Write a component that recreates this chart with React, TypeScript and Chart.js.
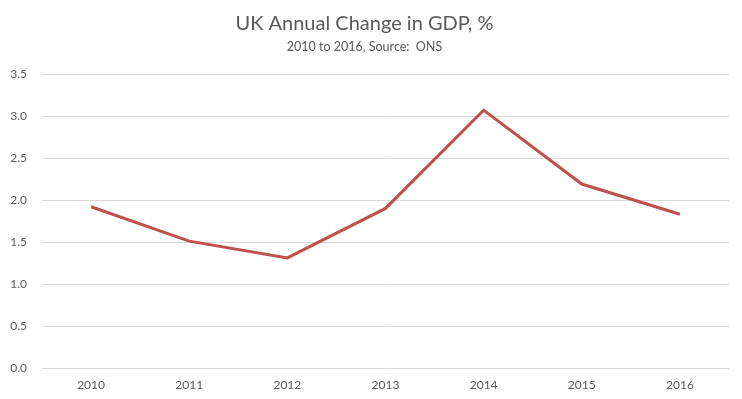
import React, { useEffect, useRef } from "react";
import { Chart, registerables } from "chart.js";

Chart.register(...registerables);

const years = ["2010", "2011", "2012", "2013", "2014", "2015", "2016"];
const gdpChange = [1.92, 1.51, 1.31, 1.9, 3.07, 2.19, 1.83];
const titleText = "UK Annual Change in GDP, %";
const subtitleText = "2010 to 2016, Source:  ONS";

export default function App() {
  const ref = useRef<HTMLCanvasElement | null>(null);

  useEffect(() => {
    document.body.style.margin = "0";
    if (!ref.current) return;
    const chart = new Chart(ref.current, {
      type: "line",
      data: {
        labels: years,
        datasets: [
          {
            data: gdpChange,
            borderColor: "#C0504D",
            borderWidth: 3,
            pointRadius: 0,
            tension: 0,
            fill: false,
          },
        ],
      },
      options: {
        animation: false,
        responsive: false,
        maintainAspectRatio: false,
        layout: { padding: { left: 0, right: 13, top: 0, bottom: 0 } },
        plugins: {
          legend: { display: false },
          tooltip: { enabled: false },
          title: {
            display: true,
            text: titleText,
            color: "#595959",
            font: { family: "Lato", size: 20, weight: "normal", lineHeight: 1.2 },
            padding: { top: 12, bottom: 0 },
          },
          subtitle: {
            display: true,
            text: subtitleText,
            color: "#595959",
            font: { family: "Lato", size: 12.5, weight: "normal", lineHeight: 1.2 },
            padding: { top: 3.5, bottom: 19.5 },
          },
        },
        scales: {
          x: {
            offset: true,
            grid: { display: false, drawTicks: false },
            border: { display: false },
            ticks: {
              color: "#595959",
              font: { family: "Lato", size: 12 },
              padding: 10,
              maxRotation: 0,
            },
            afterFit: (s: any) => {
              s.height = 31;
            },
          },
          y: {
            min: 0,
            max: 3.5,
            grid: { color: "#D9D9D9", lineWidth: 1, drawTicks: false },
            border: { display: false },
            ticks: {
              stepSize: 0.5,
              color: "#595959",
              font: { family: "Lato", size: 12 },
              padding: 15,
              callback: (v: any) => Number(v).toFixed(1),
            },
            afterFit: (s: any) => {
              s.width = 42;
            },
          },
        },
      },
    });
    return () => chart.destroy();
  }, []);

  return (
    <div style={{ position: "absolute", left: 0, top: 0, width: 742, height: 399, background: "#fff" }}>
      <canvas ref={ref} width={742} height={399} style={{ width: 742, height: 399, display: "block" }} />
    </div>
  );
}
